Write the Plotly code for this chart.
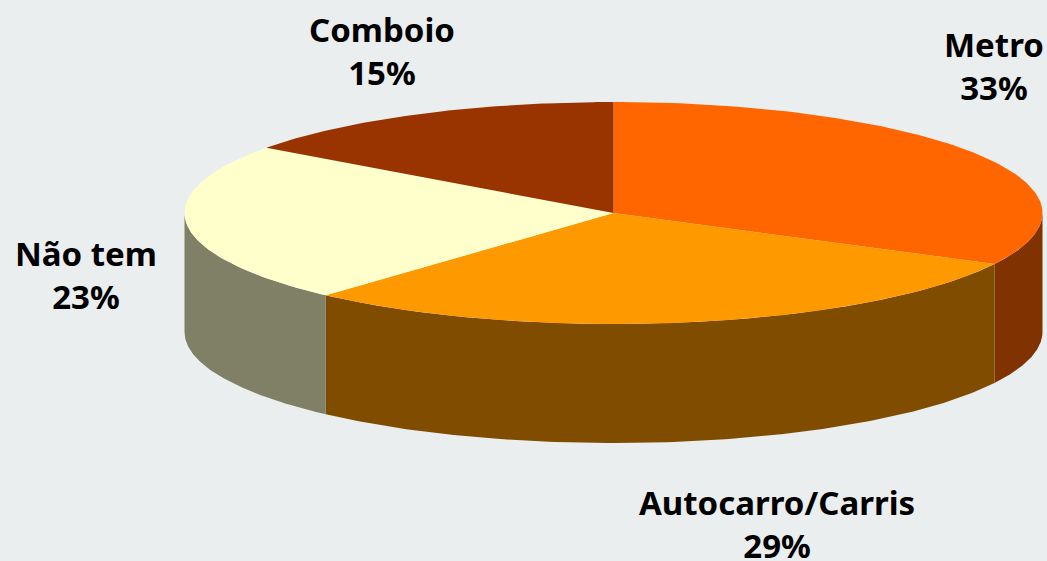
import numpy as np
import plotly.graph_objects as go

# shares, clockwise from 12 o'clock
categories = ['Metro', 'Autocarro/Carris', 'Não tem', 'Comboio']
shares = [32.6, 29.1, 23.3, 15.0]
top_colors = ['#FF6600', '#FF9900', '#FFFFCC', '#993300']
side_colors = ['#803300', '#804C00', '#808066', '#4D1A00']
label_x = [994, 777, 86, 382]
label_y = [66, 524, 275, 51]

# pie geometry, in page pixels
cx, cy = 613.5, 213
rx, ry = 429, 111
depth = 119
bg = '#EAEEEF'


def rim(a, b):
    t = np.radians(np.linspace(a, b, 120))
    return cx + rx * np.sin(t), cy - ry * np.cos(t)


fig = go.Figure()
edges = np.concatenate([[0], np.cumsum(shares)]) * 3.6

# walls first, only the front half of the rim shows
for i, name in enumerate(categories):
    a, b = max(edges[i], 90), min(edges[i + 1], 270)
    if a >= b:
        continue
    x, y = rim(a, b)
    fig.add_trace(go.Scatter(
        x=np.concatenate([x, x[::-1]]),
        y=np.concatenate([y, y[::-1] + depth]),
        fill='toself', fillcolor=side_colors[i], mode='lines',
        line=dict(width=0), hoverinfo='skip', showlegend=False))

# top face
for i, name in enumerate(categories):
    x, y = rim(edges[i], edges[i + 1])
    fig.add_trace(go.Scatter(
        x=np.concatenate([[cx], x, [cx]]),
        y=np.concatenate([[cy], y, [cy]]),
        fill='toself', fillcolor=top_colors[i], mode='lines',
        line=dict(width=0), name=name, showlegend=False))

for i, name in enumerate(categories):
    fig.add_annotation(
        x=label_x[i], y=label_y[i],
        text='<b>%s<br>%d%%</b>' % (name, round(shares[i])),
        showarrow=False, font=dict(family='Noto Sans', size=33, color='black'))

fig.update_xaxes(range=[0, 1047], visible=False)
fig.update_yaxes(range=[561, 0], visible=False)
fig.update_layout(width=1047, height=561, margin=dict(l=0, r=0, t=0, b=0),
                  paper_bgcolor=bg, plot_bgcolor=bg)
fig.write_html("out.html", config={'displayModeBar': False},
               post_script="document.body.style.margin='0'")
